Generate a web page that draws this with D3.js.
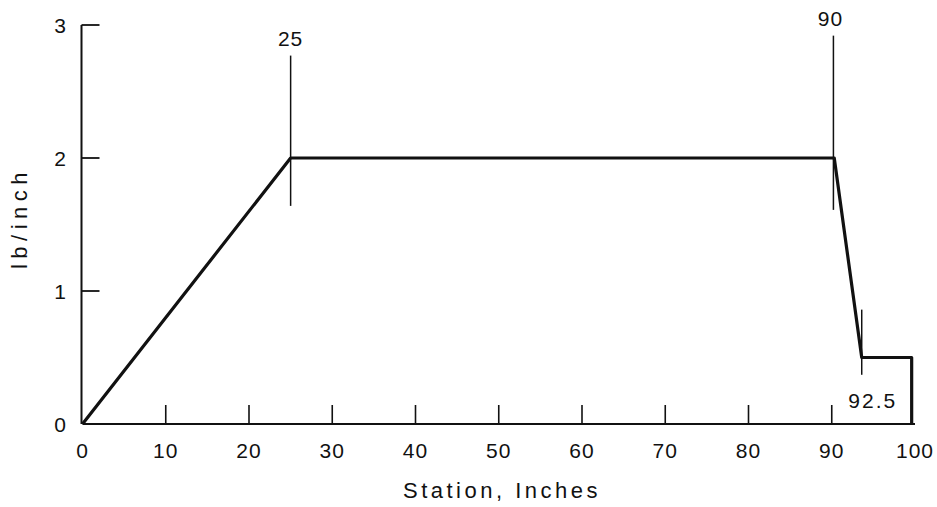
<!DOCTYPE html>
<html><head><meta charset="utf-8">
<script src="https://cdn.jsdelivr.net/npm/d3@7"></script>
<style>body{margin:0;background:#fff}svg{display:block}text{font-family:"Liberation Sans",Arial,sans-serif;fill:#111}</style>
</head><body><svg id="c" width="937" height="507"></svg>
<script>
const stationX = [0, 25, 90.3, 93.6, 99.6, 99.6];
const loadY = [0, 2, 2, 0.5, 0.5, 0];
const xTicks = [0,10,20,30,40,50,60,70,80,90,100];
const yTicks = [0,1,2,3];
const markerX = [25, 90.2, 93.6];
const markerLabels = ["25", "90", "92.5"];
const markerTop = [2.77, 2.92, 0.86];
const markerBottom = [1.64, 1.61, 0.37];

const svg = d3.select("#c");
const x = d3.scaleLinear().domain([0,100]).range([82.5,915]);
const y = d3.scaleLinear().domain([0,3]).range([424,25]);

// axes lines
svg.append("line").attr("x1",x(0)).attr("x2",x(100)).attr("y1",y(0)).attr("y2",y(0)).attr("stroke","#111").attr("stroke-width",2);
svg.append("line").attr("x1",x(0)-1).attr("x2",x(0)-1).attr("y1",y(0)).attr("y2",y(3)).attr("stroke","#111").attr("stroke-width",2);

// x ticks (inward)
const xg = svg.append("g");
xg.selectAll("line").data(xTicks.filter(d=>d>0&&d<100)).join("line")
  .attr("x1",d=>x(d)).attr("x2",d=>x(d)).attr("y1",y(0)).attr("y2",y(0)-19)
  .attr("stroke","#111").attr("stroke-width",1.6);
xg.selectAll("text").data(xTicks).join("text")
  .attr("x",d=>x(d)).attr("y",458).attr("text-anchor","middle")
  .attr("font-size",21).attr("letter-spacing",1).text(d=>d);

// y ticks (inward)
const yg = svg.append("g");
yg.selectAll("line").data(yTicks.filter(d=>d>0)).join("line")
  .attr("x1",x(0)-1).attr("x2",x(0)+17).attr("y1",d=>y(d)).attr("y2",d=>y(d))
  .attr("stroke","#111").attr("stroke-width",1.8);
yg.selectAll("text").data(yTicks).join("text")
  .attr("x",66).attr("y",d=>y(d)+8).attr("text-anchor","end")
  .attr("font-size",21).text(d=>d);

// markers
markerX.forEach((m,i)=>{
  svg.append("line").attr("x1",x(m)).attr("x2",x(m)).attr("y1",y(markerTop[i])).attr("y2",y(markerBottom[i]))
    .attr("stroke","#111").attr("stroke-width",1.5);
});
svg.append("text").attr("x",x(markerX[0])).attr("y",46).attr("text-anchor","middle").attr("font-size",21).attr("letter-spacing",1).text(markerLabels[0]);
svg.append("text").attr("x",x(markerX[1])-3).attr("y",26).attr("text-anchor","middle").attr("font-size",21).attr("letter-spacing",1).text(markerLabels[1]);
svg.append("text").attr("x",x(markerX[2])+11).attr("y",408).attr("text-anchor","middle").attr("font-size",21).attr("letter-spacing",2).text(markerLabels[2]);

// data line
const line = d3.line().x((d,i)=>x(stationX[i])).y(d=>y(d));
svg.append("path").attr("d",line(loadY)).attr("fill","none").attr("stroke","#111")
  .attr("stroke-width",3.2).attr("stroke-linejoin","round");

// axis titles
svg.append("text").attr("x",502).attr("y",498).attr("text-anchor","middle").attr("font-size",22)
  .attr("letter-spacing",3.5).text("Station, Inches");
svg.append("text").attr("transform","translate(27,218) rotate(-90)").attr("text-anchor","middle")
  .attr("font-size",22).attr("letter-spacing",5.5).text("lb/inch");
</script></body></html>
